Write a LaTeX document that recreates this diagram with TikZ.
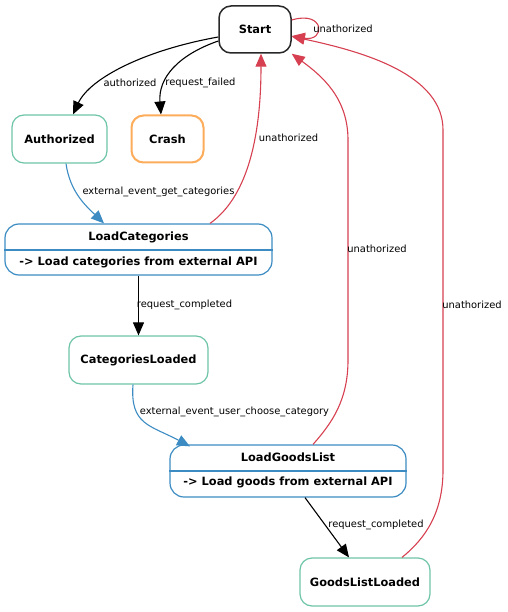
\documentclass[tikz,border=0pt]{standalone}
\usepackage{fontspec}
\setmainfont{DejaVu Sans}
\usetikzlibrary{arrows.meta}
\definecolor{cred}{RGB}{214,64,80}
\definecolor{cblue}{RGB}{60,140,195}
\definecolor{cteal}{RGB}{110,196,168}
\definecolor{corange}{RGB}{253,172,90}
\definecolor{cdark}{RGB}{40,40,40}
\tikzset{
  state/.style={draw, rounded corners=12pt, line width=1.2pt, fill=white, font=\bfseries\fontsize{11.4}{13}\selectfont, inner sep=0pt},
  bigstate/.style={draw=cblue, rounded corners=14pt, line width=1.2pt, fill=white, inner sep=0pt},
  ttl/.style={font=\bfseries\fontsize{11.4}{13}\selectfont, inner sep=0pt},
  lbl/.style={font=\fontsize{9.9}{11}\selectfont, inner sep=0pt},
  edge/.style={line width=1.1pt, -{Triangle[length=13pt,width=11pt]}},
  redge/.style={line width=1.1pt, draw=cred, -{Triangle[length=13pt,width=11pt]}},
  bedge/.style={edge, draw=cblue},
}
\begin{document}
\begin{tikzpicture}[x=1pt,y=-1pt]
\useasboundingbox (0,0) rectangle (507,612);
% nodes
\node[state, draw=cdark, line width=1.5pt, minimum width=72pt, minimum height=47pt] (st) at (255,29.5) {Start};
\node[state, draw=cteal, minimum width=95pt, minimum height=48pt] (au) at (59.5,139) {Authorized};
\node[state, draw=corange, line width=2pt, minimum width=72pt, minimum height=47pt] (cr) at (167.5,139) {Crash};
\node[bigstate, minimum width=267pt, minimum height=51pt] (lc) at (138.5,249.5) {};
\draw[cblue, line width=1.2pt] (lc.west |- 0,250) -- (lc.east |- 0,250);
\node[ttl] (lct) at (138.5,237) {LoadCategories};
\node[ttl] (lcb) at (138.5,262.5) {-> Load categories from external API};
\node[state, draw=cteal, minimum width=139pt, minimum height=48pt] (cl) at (138.5,360) {CategoriesLoaded};
\node[bigstate, minimum width=236pt, minimum height=52pt] (lg) at (288,471) {};
\draw[cblue, line width=1.2pt] (lg.west |- 0,471) -- (lg.east |- 0,471);
\node[ttl] (lgt) at (288,457.5) {LoadGoodsList};
\node[ttl] (lgb) at (288,482.5) {-> Load goods from external API};
\node[state, draw=cteal, minimum width=130pt, minimum height=48pt] (gl) at (365,582) {GoodsListLoaded};
% edges
\draw[edge] ([yshift=-7.5pt]st.west) .. controls (145,50) and (90,78) .. ([xshift=13.5pt]au.north);
\draw[edge] ([yshift=-11.5pt]st.west) .. controls (178,55) and (158,78) .. ([xshift=-6.5pt]cr.north);
\draw[redge] ([yshift=9.5pt]st.east) .. controls (325,10) and (326,42) .. ([yshift=-6.5pt]st.east);
\draw[redge] ([xshift=71.5pt]lc.north) .. controls (250,195) and (261,130) .. ([xshift=6pt]st.south);
\draw[redge] ([xshift=25pt]lg.north) .. controls (332,423) and (348,400) .. (348,360) -- (348,140) .. controls (348,98) and (322,76) .. (st.south east);
\draw[redge] ([xshift=37pt]gl.north) .. controls (426,538) and (443,512) .. (443,470) -- (443,130) .. controls (443,75) and (365,52) .. ([yshift=-7pt]st.east);
\draw[bedge] ([xshift=6.5pt]au.south) .. controls (70,192) and (86,206) .. ([xshift=-34.5pt]lc.north);
\draw[edge] (lc.south) -- (cl.north);
\draw[bedge] ([xshift=-5.5pt]cl.south) .. controls (130,425) and (150,425) .. ([xshift=-98pt,yshift=-2pt]lg.north);
\draw[edge] ([xshift=17pt]lg.south) -- ([xshift=-16pt]gl.north);
% labels
\node[lbl] (l1) at (130,83) {authorized};
\node[lbl] (l2) at (200.5,83) {request\_failed};
\node[lbl] (l3) at (343,29) {unathorized};
\node[lbl] (l4) at (288.5,138) {unathorized};
\node[lbl] (l5) at (158.5,192) {external\_event\_get\_categories};
\node[lbl] (l6) at (184.5,305) {request\_completed};
\node[lbl] (l7) at (377,249) {unathorized};
\node[lbl] (l8) at (472,305) {unathorized};
\node[lbl] (l9) at (234.5,412) {external\_event\_user\_choose\_category};
\node[lbl] (l10) at (376,525) {request\_completed};
\end{tikzpicture}
\end{document}
